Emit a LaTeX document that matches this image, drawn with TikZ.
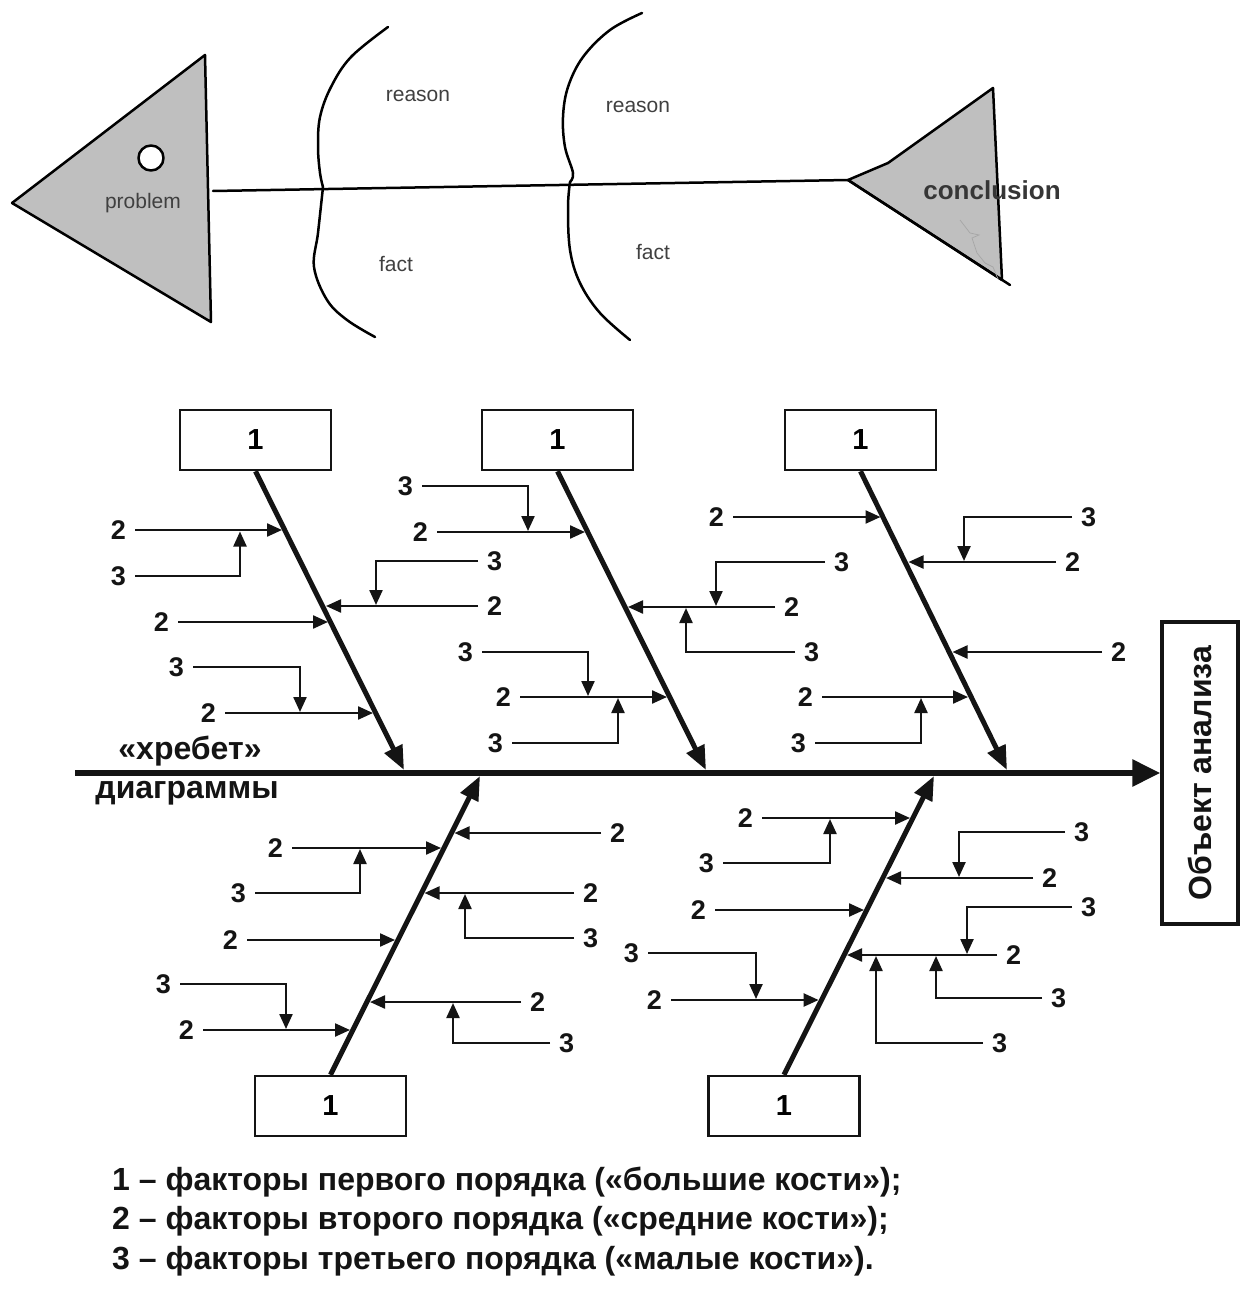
\documentclass[tikz,border=0pt]{standalone}
\usepackage{fontspec}
\setmainfont{Liberation Sans}
\usetikzlibrary{arrows.meta}
\definecolor{fishgray}{RGB}{191,191,191}
\definecolor{txtgray}{RGB}{64,64,64}
\definecolor{ink}{RGB}{20,20,20}
\tikzset{
  lab/.style={font=\fontsize{27}{27}\selectfont\bfseries, text=ink, inner xsep=9pt, inner ysep=0pt},
  thinarr/.style={draw=ink, line width=2.3pt, -{Triangle[length=15pt,width=13pt]}},
  straight/.style={to path={-- (\tikztotarget)}},
  elbow/.style={to path={-| (\tikztotarget)}},
  bone/.style={draw=ink, line width=5pt, -{Triangle[length=24pt,width=19pt]}},
  spine/.style={draw=ink, line width=6pt, -{Triangle[length=28pt,width=26pt]}},
  factorbox/.style={draw=ink, line width=2.5pt, minimum width=151pt, minimum height=60pt, inner sep=0pt, font=\fontsize{29}{29}\selectfont\bfseries},
  objbox/.style={draw=ink, line width=3.5pt, minimum width=76pt, minimum height=302pt, inner sep=0pt},
  bigtxt/.style={font=\fontsize{32}{32}\selectfont\bfseries, text=ink, inner sep=0pt},
  fishtxt/.style={font=\fontsize{21}{21}\selectfont, text=txtgray, inner sep=0pt},
  fishline/.style={draw=black, line width=2.5pt, line join=round, line cap=round},
}
\begin{document}
\begin{tikzpicture}[x=1pt,y=-1pt]
\useasboundingbox (0,0) rectangle (1247,1289);
\fill[white] (0,0) rectangle (1247,1289);

% ---------- upper fish ----------
\filldraw[fishline, fill=fishgray] (12,203) -- (205,55) -- (211,322) -- cycle;
\filldraw[fishline, fill=white] (151,158) circle (12.5);
\node[fishtxt] (problem) at (143,203) {problem};
\filldraw[fishline, fill=fishgray] (848,180) -- (888,163) -- (993,88) -- (1002,280) -- cycle;
\draw[fishline] (848,180) -- (1010,285);
\draw[gray!70, line width=0.7pt] (960,220) -- (970,233) -- (979,235) -- (972,238) -- (977,253) -- (985,263) -- (993,267) -- (998,279);
\node[font=\fontsize{26}{26}\selectfont\bfseries, text=txtgray!85!black, inner sep=0pt] (concl) at (992,190) {conclusion};
\coordinate (hs) at (213,191);
\coordinate (tl) at (848,180);
\draw[fishline] (hs) -- (tl);
\draw[fishline] plot[smooth, tension=0.6] coordinates {(388,27) (351,57) (331,87) (320,117) (318,147) (320,173) (323,187)};
\draw[fishline] plot[smooth, tension=0.6] coordinates {(323,187) (318,233) (314,267) (327,300) (347,320) (375,337)};
\draw[fishline] plot[smooth, tension=0.6] coordinates {(642,13) (610,30) (583,57) (568,87) (563,117) (565,147) (573,173) (570,182)};
\draw[fishline] plot[smooth, tension=0.6] coordinates {(570,182) (568,207) (570,250) (580,283) (600,313) (630,340)};
\node[fishtxt] (r1) at (418,96) {reason};
\node[fishtxt] (f1t) at (396,264) {fact};
\node[fishtxt] (r2) at (638,107) {reason};
\node[fishtxt] (f2t) at (653,252) {fact};

% ---------- Ishikawa diagram ----------
\node[factorbox] (f1) at (255.5,440) {1};
\node[factorbox] (f2) at (557.5,440) {1};
\node[factorbox] (f3) at (860.5,440) {1};
\node[factorbox] (f4) at (330.5,1106) {1};
\node[factorbox] (f5) at (784,1106) {1};
\node[objbox] (obj) at (1200,773) {};
\node[bigtxt, rotate=90] (objt) at (obj.center) {Объект анализа};

\coordinate (sp0) at (75,773);
\draw[spine] (sp0) -- (obj.west);
\node[bigtxt] (hreb) at (190,751) {«хребет»};
\node[bigtxt] (diag) at (187,793) {диаграммы};

\coordinate (e1) at (404,770);
\coordinate (e2) at (706,770);
\coordinate (e3) at (1007,770);
\coordinate (e4) at (480,776);
\coordinate (e5) at (934,776);
\draw[bone] (f1.south) -- (e1);
\draw[bone] (f2.south) -- (e2);
\draw[bone] (f3.south) -- (e3);
\draw[bone] (f4.north) -- (e4);
\draw[bone] (f5.north) -- (e5);

\foreach \n/\t/\sx/\sy/\tx/\ty/\side/\kind in {
 1/2/135/530/282/530/east/straight,
 2/3/135/576/240/531.5/east/elbow,
 3/3/478/561/376/605/west/elbow,
 4/2/478/606/326/606/west/straight,
 5/2/178/622/328/622/east/straight,
 6/3/193/667/300/712/east/elbow,
 7/2/225/713/373/713/east/straight,
 8/3/422/486/528/531/east/elbow,
 9/2/437/532/585/532/east/straight,
 10/3/825/562/716/606/west/elbow,
 11/2/775/607/628/607/west/straight,
 12/3/795/652/686/608/west/elbow,
 13/3/482/652/588/696/east/elbow,
 14/2/520/697/667/697/east/straight,
 15/3/512/743/618/698/east/elbow,
 16/2/733/517/880.5/517/east/straight,
 17/3/1072/517/964/561/west/elbow,
 18/2/1056/562/908.5/562/west/straight,
 19/2/1102/652/952.5/652/west/straight,
 20/2/822/697/968/697/east/straight,
 21/3/815/743/921/698/east/elbow,
 22/2/601/833/454.5/833/west/straight,
 23/2/292/848/441/848/east/straight,
 24/3/255/893/360/849/east/elbow,
 25/2/574/893/424.5/893/west/straight,
 26/3/574/938/465/894/west/elbow,
 27/2/247/940/395/940/east/straight,
 28/3/180/984/286/1029/east/elbow,
 29/2/203/1030/350/1030/east/straight,
 30/2/521/1002/370/1002/west/straight,
 31/3/550/1043/453/1003/west/elbow,
 32/2/762/818/910/818/east/straight,
 33/3/723/863/830/819/east/elbow,
 34/3/1065/832/959/877/west/elbow,
 35/2/1033/878/886/878/west/straight,
 36/2/715/910/864/910/east/straight,
 37/3/1072/907/967/954/west/elbow,
 38/2/997/955/847/955/west/straight,
 39/3/1042/998/936/956/west/elbow,
 40/3/983/1043/876/956/west/elbow,
 41/3/648/953/756/999/east/elbow,
 42/2/671/1000/818.6/1000/east/straight}{
  \node[lab, anchor=\side] (l\n) at (\sx,\sy) {\t};
  \coordinate (t\n) at (\tx,\ty);
  \draw[thinarr] (l\n.\side) to[\kind] (t\n);
}

% ---------- legend ----------
\node[bigtxt, anchor=west] (lg1) at (112,1182) {1 – факторы первого порядка («большие кости»);};
\node[bigtxt, anchor=west] (lg2) at (112,1221) {2 – факторы второго порядка («средние кости»);};
\node[bigtxt, anchor=west] (lg3) at (112,1261) {3 – факторы третьего порядка («малые кости»).};
\end{tikzpicture}
\end{document}
